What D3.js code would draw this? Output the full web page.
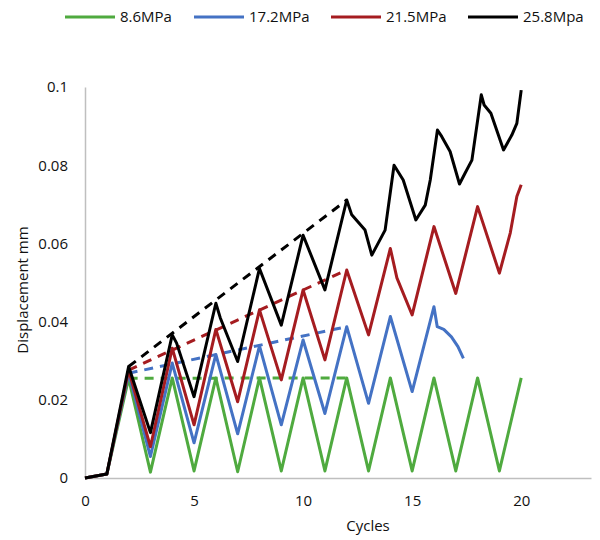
<!DOCTYPE html>
<html><head><meta charset="utf-8">
<script src="https://cdn.jsdelivr.net/npm/d3@7"></script>
<style>body{margin:0;background:#fff}svg{display:block}text{font-family:"Open Sans",Lato,sans-serif;fill:#111}</style>
</head><body><svg id="c" width="600" height="540"></svg>
<script>
const seriesNames = ["8.6MPa","17.2MPa","21.5MPa","25.8Mpa"];
const seriesColors = ["#4faa3f","#4472c4","#a51c20","#000000"];
const xTicks = [0,5,10,15,20];
const yTicks = [0,0.02,0.04,0.06,0.08,0.1];

const greenX = [0,1,2,3,4,5,6,7,8,9,10,11,12,13,14,15,16,17,18,19,20];
const greenY = [0,0.001,0.0255,0.0015,0.0256,0.0018,0.0256,0.0016,0.0256,0.0018,0.0256,0.0018,0.0256,0.0018,0.0256,0.0018,0.0256,0.0018,0.0256,0.0018,0.0256];

const blueX = [0,1,2,3,4,5,6,7,8,9,10,11,12,13,14,15,16,16.15,16.45,16.8,17.1,17.35];
const blueY = [0,0.001,0.0268,0.0055,0.0294,0.009,0.0316,0.0113,0.0338,0.0136,0.0353,0.0165,0.0387,0.0191,0.0413,0.0221,0.0438,0.0387,0.038,0.0361,0.0336,0.0306];

const redX = [0,1,2,3,4,5,6,7,8,9,10,11,12,13,14,14.3,15,16,17,18,19,19.5,19.8,20];
const redY = [0,0.001,0.0276,0.008,0.0332,0.0136,0.038,0.0195,0.043,0.0251,0.0481,0.0302,0.0532,0.0366,0.0587,0.0512,0.0417,0.0643,0.0472,0.0694,0.0524,0.0627,0.072,0.075];

const blackX = [0,1,2,3,4,4.2,5,6,6.2,7,8,9,10,11,12,12.23,12.84,13.15,13.76,14.17,14.59,15.17,15.6,15.83,16.16,16.36,16.74,17.17,17.43,17.74,18.17,18.3,18.61,19.19,19.57,19.8,20];
const blackY = [0,0.001,0.0285,0.0116,0.0366,0.0345,0.0208,0.0447,0.041,0.0298,0.0536,0.0391,0.0621,0.0481,0.0711,0.0673,0.0634,0.057,0.0634,0.080,0.0762,0.066,0.0698,0.0762,0.089,0.0873,0.0835,0.0752,0.078,0.0813,0.098,0.0954,0.0933,0.0839,0.0877,0.0907,0.0992];

// dashed envelope lines: start/end x, start/end y per series
const dashX = [2,12];
const dashGreen = [0.0255,0.0256];
const dashBlue = [0.0268,0.0387];
const dashRed = [0.0276,0.0532];
const dashBlack = [0.0285,0.0711];

const svg = d3.select("#c");
const x = d3.scaleLinear().domain([0,23.2]).range([85,591]);
const y = d3.scaleLinear().domain([0,0.1]).range([478,87]);

const xAxis = svg.append("g").attr("transform","translate(0,478)")
  .call(d3.axisBottom(x).tickValues(xTicks).tickSize(0).tickPadding(17).tickFormat(d3.format("d")));
const yAxis = svg.append("g").attr("transform","translate(85,0)")
  .call(d3.axisLeft(y).tickValues(yTicks).tickSize(0).tickPadding(17).tickFormat(d=>d===0?"0":String(+d.toFixed(2))));
[xAxis,yAxis].forEach(a=>{
  a.select(".domain").attr("stroke","#bfbfbf").attr("stroke-width",1.5);
  a.selectAll("text").style("font-size","15px").style("font-family","'Open Sans', Lato, sans-serif").attr("fill","#111");
});

const line = d3.line().x(d=>x(d[0])).y(d=>y(d[1]));
const sets = [[greenX,greenY],[blueX,blueY],[redX,redY],[blackX,blackY]];
const dashes = [dashGreen,dashBlue,dashRed,dashBlack];

sets.forEach((s,i)=>{
  svg.append("path").datum(dashX.map((v,j)=>[v,dashes[i][j]]))
    .attr("d",line).attr("fill","none").attr("stroke",seriesColors[i])
    .attr("stroke-width",3).attr("stroke-dasharray","9,7");
});
sets.forEach((s,i)=>{
  svg.append("path").datum(s[0].map((v,j)=>[v,s[1][j]]))
    .attr("d",line).attr("fill","none").attr("stroke",seriesColors[i])
    .attr("stroke-width",3).attr("stroke-linejoin","round");
});

svg.append("text").attr("x",368).attr("y",531).attr("text-anchor","middle")
  .style("font-size","15px").text("Cycles");
svg.append("text").attr("transform","translate(28,290) rotate(-90)").attr("text-anchor","middle")
  .style("font-size","15px").text("Displacement mm");

const legX = [65,194,331,468];
seriesNames.forEach((n,i)=>{
  svg.append("line").attr("x1",legX[i]).attr("x2",legX[i]+50).attr("y1",17).attr("y2",17)
    .attr("stroke",seriesColors[i]).attr("stroke-width",3);
  svg.append("text").attr("x",legX[i]+55).attr("y",22).style("font-size","15px").text(n);
});
</script></body></html>
